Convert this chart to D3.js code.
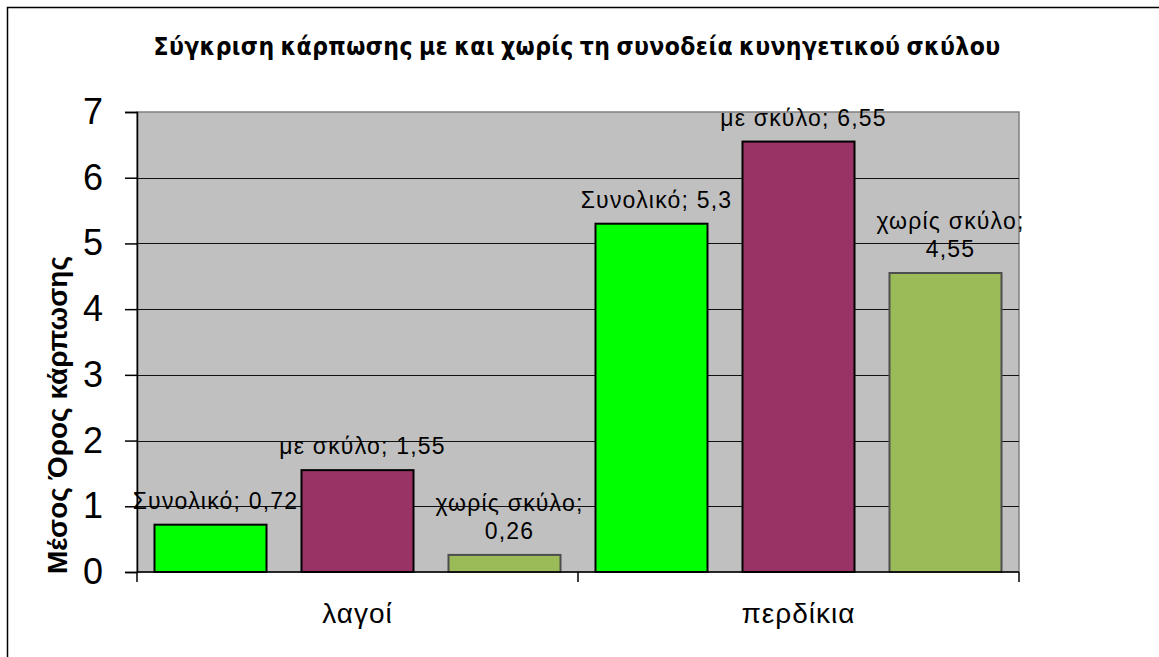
<!DOCTYPE html>
<html>
<head>
<meta charset="utf-8">
<script src="https://cdn.jsdelivr.net/npm/d3@7"></script>
<style>
  body { margin: 0; background: #fff; }
  svg { display: block; }
</style>
</head>
<body>
<svg id="chart" width="1159" height="657"></svg>
<script>
// chart data
var categories = ["λαγοί", "περδίκια"];
var seriesNames = ["Συνολικό", "με σκύλο", "χωρίς σκύλο"];
var seriesValues = [
  [0.72, 5.3],   // Συνολικό
  [1.55, 6.55],  // με σκύλο
  [0.26, 4.55]   // χωρίς σκύλο
];
var yTicks = [0, 1, 2, 3, 4, 5, 6, 7];
var titleText = "Σύγκριση κάρπωσης με και χωρίς τη συνοδεία κυνηγετικού σκύλου";
var yTitleText = "Μέσος Όρος κάρπωσης";

var colors = ["#00ff00", "#993366", "#9bbb59"];
var strokes = ["#000", "#000", "#4d4d4d"];

var svg = d3.select("#chart");

var plot = { left: 137, top: 112, right: 1019, bottom: 572 };

// outer chart frame (only top + left visible in the picture)
svg.append("path")
   .attr("d", "M7.5,657 V7.5 H1159")
   .attr("fill", "none")
   .attr("stroke", "#000")
   .attr("stroke-width", 1.5);

var x0 = d3.scaleBand()
           .domain(categories)
           .range([plot.left, plot.right])
           .padding(0);

var x1 = d3.scaleBand()
           .domain(seriesNames)
           .range([0, x0.bandwidth()])
           .paddingInner(0.238)
           .paddingOuter(0.119);

var y = d3.scaleLinear()
          .domain([0, 7])
          .range([plot.bottom, plot.top]);

// plot background
svg.append("rect")
   .attr("x", plot.left)
   .attr("y", plot.top)
   .attr("width", plot.right - plot.left)
   .attr("height", plot.bottom - plot.top)
   .attr("fill", "#c0c0c0")
   .attr("stroke", "#808080")
   .attr("stroke-width", 1.5);

// gridlines
svg.append("g").attr("class", "grid")
   .selectAll("line")
   .data(yTicks.filter(function(d) { return d > 0 && d < 7; }))
   .enter().append("line")
   .attr("x1", plot.left)
   .attr("x2", plot.right)
   .attr("y1", function(d) { return Math.round(y(d)) + 0.5; })
   .attr("y2", function(d) { return Math.round(y(d)) + 0.5; })
   .attr("stroke", "#111")
   .attr("stroke-width", 1.2);

// y axis
var yAxis = svg.append("g")
   .attr("class", "y-axis")
   .attr("transform", "translate(" + plot.left + ",0)")
   .call(d3.axisLeft(y).tickValues(yTicks).tickSize(12).tickPadding(22).tickFormat(d3.format("d")));

yAxis.select(".domain").attr("stroke", "#000").attr("stroke-width", 1.5);
yAxis.selectAll(".tick line").attr("stroke", "#000").attr("stroke-width", 1.5);
yAxis.selectAll(".tick text")
     .attr("font-family", "Liberation Sans, Arial, sans-serif")
     .attr("font-size", 36)
     .attr("fill", "#000");

// bars
var groups = svg.append("g").attr("class", "bars")
   .selectAll("g")
   .data(categories)
   .enter().append("g")
   .attr("transform", function(d) { return "translate(" + x0(d) + ",0)"; });

groups.selectAll("rect")
   .data(function(cat, ci) {
     return seriesNames.map(function(s, si) {
       return { cat: cat, series: s, si: si, value: seriesValues[si][ci] };
     });
   })
   .enter().append("rect")
   .attr("x", function(d) { return x1(d.series); })
   .attr("y", function(d) { return y(d.value); })
   .attr("width", x1.bandwidth())
   .attr("height", function(d) { return y(0) - y(d.value); })
   .attr("fill", function(d) { return colors[d.si]; })
   .attr("stroke", function(d) { return strokes[d.si]; })
   .attr("stroke-width", 2);

// x axis
var xAxis = svg.append("g")
   .attr("class", "x-axis")
   .attr("transform", "translate(0," + plot.bottom + ")");

xAxis.append("line")
     .attr("x1", plot.left).attr("x2", plot.right)
     .attr("stroke", "#000").attr("stroke-width", 1.5);

xAxis.selectAll("line.tick")
     .data(categories.map(function(c) { return x0(c); }).concat([plot.right]))
     .enter().append("line")
     .attr("class", "tick")
     .attr("x1", function(d) { return d; })
     .attr("x2", function(d) { return d; })
     .attr("y1", 0).attr("y2", 10)
     .attr("stroke", "#000").attr("stroke-width", 1.5);

xAxis.selectAll("text")
     .data(categories)
     .enter().append("text")
     .attr("x", function(d) { return x0(d) + x0.bandwidth() / 2; })
     .attr("y", 51)
     .attr("text-anchor", "middle")
     .attr("font-family", "Liberation Sans, Arial, sans-serif")
     .attr("font-size", 28)
     .attr("letter-spacing", 1)
     .attr("fill", "#000")
     .text(function(d) { return d; });

// data labels
var labelFont = "Liberation Sans, Arial, sans-serif";
groups.selectAll("text")
   .data(function(cat, ci) {
     return seriesNames.map(function(s, si) {
       return { series: s, si: si, value: seriesValues[si][ci] };
     });
   })
   .enter().append("text")
   .attr("text-anchor", "middle")
   .attr("font-family", labelFont)
   .attr("font-size", 23)
   .attr("letter-spacing", 1.2)
   .attr("fill", "#000")
   .each(function(d) {
     var t = d3.select(this);
     var cx = x1(d.series) + x1.bandwidth() / 2 + 5;
     var valText = String(d.value).replace(".", ",");
     var full = d.series + "; " + valText;
     var base = y(d.value) - 16;
     t.text(full);
     if (this.getComputedTextLength() > 190) {
       t.text(null);
       t.append("tspan").attr("x", cx).attr("y", base - 28).text(d.series + ";");
       t.append("tspan").attr("x", cx).attr("y", base).text(valText);
     } else {
       t.attr("x", cx).attr("y", base);
     }
   });

// title
svg.append("text")
   .attr("x", 577)
   .attr("y", 55)
   .attr("text-anchor", "middle")
   .attr("font-family", "DejaVu Sans Condensed, DejaVu Sans, sans-serif")
   .attr("font-stretch", "condensed")
   .attr("font-weight", "bold")
   .attr("font-size", 24.5)
   .attr("letter-spacing", 0.4)
   .attr("word-spacing", -2)
   .attr("fill", "#000")
   .text(titleText);

// y axis title
svg.append("text")
   .attr("transform", "translate(67,415) rotate(-90)")
   .attr("text-anchor", "middle")
   .attr("font-family", "Liberation Sans, Arial, sans-serif")
   .attr("font-weight", "bold")
   .attr("font-size", 28)
   .attr("fill", "#000")
   .text(yTitleText);
</script>
</body>
</html>
